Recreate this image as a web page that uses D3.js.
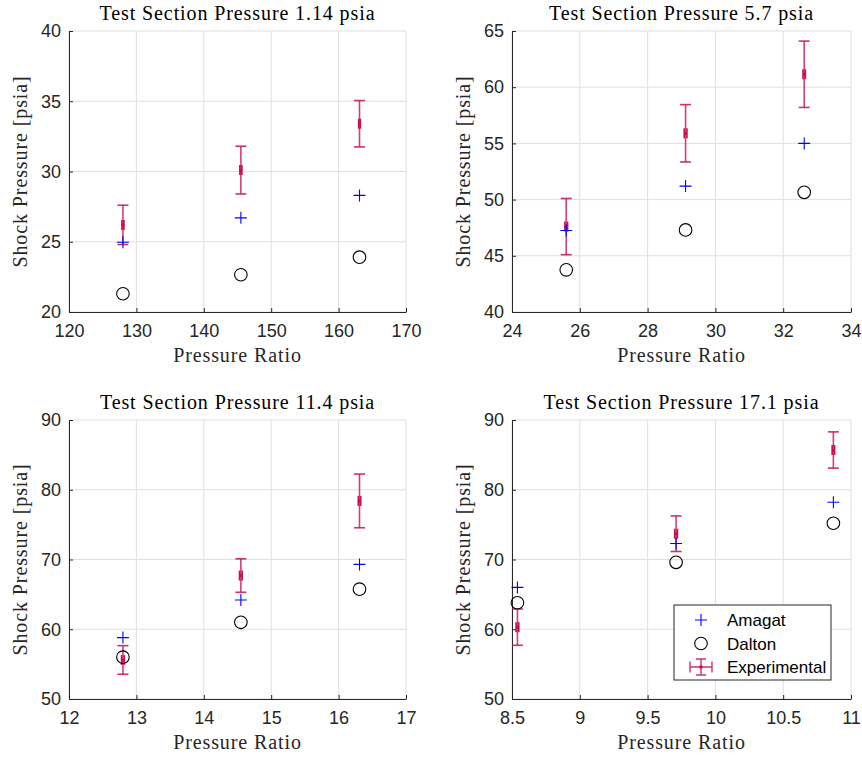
<!DOCTYPE html>
<html><head><meta charset="utf-8">
<script src="https://cdn.jsdelivr.net/npm/d3@7"></script>
<style>
html,body{margin:0;padding:0;background:#fff;}
svg{display:block;}
</style></head>
<body>
<svg id="chart" width="862" height="757"></svg>
<script>
// ---- data ----
const titles = ["Test Section Pressure 1.14 psia","Test Section Pressure 5.7 psia","Test Section Pressure 11.4 psia","Test Section Pressure 17.1 psia"];
const xDomains = [[120,170],[24,34],[12,17],[8.5,11]];
const yDomains = [[20,40],[40,65],[50,90],[50,90]];
const xTicks = [[120,130,140,150,160,170],[24,26,28,30,32,34],[12,13,14,15,16,17],[8.5,9,9.5,10,10.5,11]];
const yTicks = [[20,25,30,35,40],[40,45,50,55,60,65],[50,60,70,80,90],[50,60,70,80,90]];
const pressureRatio = [[128.0,145.5,163.1],[25.6,29.12,32.62],[12.8,14.55,16.31],[8.54,9.71,10.87]];
const amagat = [[24.96,26.7,28.3],[47.25,51.2,55.0],[58.8,64.2,69.3],[66.0,72.3,78.2]];
const dalton = [[21.3,22.65,23.9],[43.75,47.3,50.65],[56.0,61.0,65.75],[63.8,69.6,75.2]];
const expMean = [[26.2,30.1,33.4],[47.6,55.9,61.15],[55.6,67.7,78.4],[60.3,73.7,85.7]];
const expErr = [[1.4,1.7,1.65],[2.5,2.55,2.95],[2.05,2.4,3.85],[2.6,2.55,2.6]];
const expXErr = [[0.15,0.15,0.12],[0.04,0.04,0.035],[0.02,0.02,0.018],[0.01,0.01,0.009]];
const legendLabels = ["Amagat","Dalton","Experimental"];

// ---- layout ----
const boxes = [
  {l:69,r:406,t:31,b:312},
  {l:512,r:851,t:31,b:312},
  {l:69,r:406,t:420,b:699},
  {l:512,r:851,t:420,b:699}
];
const expColor = "#c8104a";
const svg = d3.select("#chart");
const sans = "'Liberation Sans', Arial, Helvetica, sans-serif";
const serif = "'Liberation Serif', 'Times New Roman', serif";

function fmt(v){ return String(v); }

function serifText(sel, size){
  return sel.style("font-family",serif).style("font-size",size+"px").style("letter-spacing","0.9px");
}

boxes.forEach((bx,i)=>{
  const x = d3.scaleLinear().domain(xDomains[i]).range([bx.l,bx.r]);
  const y = d3.scaleLinear().domain(yDomains[i]).range([bx.b,bx.t]);
  const g = svg.append("g");

  // grid
  g.selectAll(".gx").data(xTicks[i]).join("line")
    .attr("x1",d=>x(d)).attr("x2",d=>x(d)).attr("y1",bx.t).attr("y2",bx.b)
    .attr("stroke","#dfdfdf").attr("stroke-width",1);
  g.selectAll(".gy").data(yTicks[i]).join("line")
    .attr("x1",bx.l).attr("x2",bx.r).attr("y1",d=>y(d)).attr("y2",d=>y(d))
    .attr("stroke","#dfdfdf").attr("stroke-width",1);

  // axes
  const xa = g.append("g").attr("transform",`translate(0,${bx.b})`)
    .call(d3.axisBottom(x).tickValues(xTicks[i]).tickFormat(fmt).tickSizeInner(-4).tickSizeOuter(0).tickPadding(12));
  const ya = g.append("g").attr("transform",`translate(${bx.l},0)`)
    .call(d3.axisLeft(y).tickValues(yTicks[i]).tickFormat(fmt).tickSizeInner(-4).tickSizeOuter(0).tickPadding(8));
  [xa,ya].forEach(a=>{
    a.select(".domain").attr("stroke","#262626").attr("stroke-width",1);
    a.selectAll(".tick line").attr("stroke","#262626");
    a.selectAll(".tick text").attr("fill","#262626").style("font-family",sans).style("font-size","18px");
  });
  xa.selectAll(".tick text").attr("dy","0.71em");

  // title & labels
  const cx = (bx.l+bx.r)/2, cy=(bx.t+bx.b)/2;
  serifText(g.append("text").attr("x",cx).attr("y",bx.t-11).attr("text-anchor","middle"),20)
    .attr("fill","#000").text(titles[i]);
  serifText(g.append("text").attr("x",cx).attr("y",bx.b+50).attr("text-anchor","middle"),20)
    .attr("fill","#262626").text("Pressure Ratio");
  serifText(g.append("text").attr("transform",`translate(${bx.l-49},${cy}) rotate(-90)`).attr("text-anchor","middle")
    .attr("dy","0.35em"),20).attr("fill","#262626").text("Shock Pressure [psia]");

  const pts = pressureRatio[i].map((r,k)=>({r, a:amagat[i][k], d:dalton[i][k], m:expMean[i][k], e:expErr[i][k], xe:expXErr[i][k]}));

  // experimental error bars
  const eb = g.append("g").selectAll("g").data(pts).join("g");
  eb.append("line").attr("x1",d=>x(d.r)).attr("x2",d=>x(d.r)).attr("y1",d=>y(d.m-d.e)).attr("y2",d=>y(d.m+d.e))
    .attr("stroke",expColor).attr("stroke-opacity",0.8).attr("stroke-width",1.6);
  [-1,1].forEach(s=>{
    eb.append("line").attr("x1",d=>x(d.r)-5.5).attr("x2",d=>x(d.r)+5.5).attr("y1",d=>y(d.m+s*d.e)).attr("y2",d=>y(d.m+s*d.e))
      .attr("stroke",expColor).attr("stroke-opacity",0.85).attr("stroke-width",1.6);
    eb.append("line").attr("x1",d=>x(d.r+s*d.xe)).attr("x2",d=>x(d.r+s*d.xe)).attr("y1",d=>y(d.m)-5).attr("y2",d=>y(d.m)+5)
      .attr("stroke",expColor).attr("stroke-width",1.6);
  });
  eb.append("line").attr("x1",d=>x(d.r-d.xe)).attr("x2",d=>x(d.r+d.xe)).attr("y1",d=>y(d.m)).attr("y2",d=>y(d.m))
    .attr("stroke",expColor).attr("stroke-width",1.6);
  eb.append("circle").attr("cx",d=>x(d.r)).attr("cy",d=>y(d.m)).attr("r",1.6).attr("fill",expColor);

  // Amagat +
  const cs = 6;
  g.append("g").selectAll("path").data(pts).join("path")
    .attr("d",d=>`M${x(d.r)-cs},${y(d.a)}H${x(d.r)+cs}M${x(d.r)},${y(d.a)-cs}V${y(d.a)+cs}`)
    .attr("stroke","#0000ff").attr("stroke-width",1.1).attr("fill","none");
  // Dalton o
  g.append("g").selectAll("circle").data(pts).join("circle")
    .attr("cx",d=>x(d.r)).attr("cy",d=>y(d.d)).attr("r",6.3)
    .attr("fill","none").attr("stroke","#000").attr("stroke-width",1.1);

  // legend in last panel
  if(i===3){
    const lg = svg.append("g");
    lg.append("rect").attr("x",674).attr("y",605).attr("width",157).attr("height",75)
      .attr("fill","#fff").attr("stroke","#262626").attr("stroke-width",1);
    const rows = [620,643.5,667];
    const mx = 701;
    lg.append("path").attr("d",`M${mx-6},${rows[0]}H${mx+6}M${mx},${rows[0]-6}V${rows[0]+6}`)
      .attr("stroke","#0000ff").attr("stroke-width",1.1);
    lg.append("circle").attr("cx",mx).attr("cy",rows[1]).attr("r",6.3).attr("fill","none").attr("stroke","#000").attr("stroke-width",1.1);
    const ey = rows[2];
    lg.append("path").attr("d",`M${mx-11},${ey}H${mx+11}M${mx-11},${ey-5.5}V${ey+5.5}M${mx+11},${ey-5.5}V${ey+5.5}M${mx},${ey-8}V${ey+8}M${mx-5},${ey-8}H${mx+5}M${mx-5},${ey+8}H${mx+5}`)
      .attr("stroke",expColor).attr("stroke-opacity",0.85).attr("stroke-width",1.4).attr("fill","none");
    lg.append("circle").attr("cx",mx).attr("cy",ey).attr("r",1.8).attr("fill",expColor);
    lg.selectAll("text.l").data(legendLabels).join("text")
      .attr("x",727).attr("y",(d,k)=>rows[k]).attr("dy","0.36em")
      .style("font-family",sans).style("font-size","17px").attr("fill","#000").text(d=>d);
  }
});
</script>
</body></html>
